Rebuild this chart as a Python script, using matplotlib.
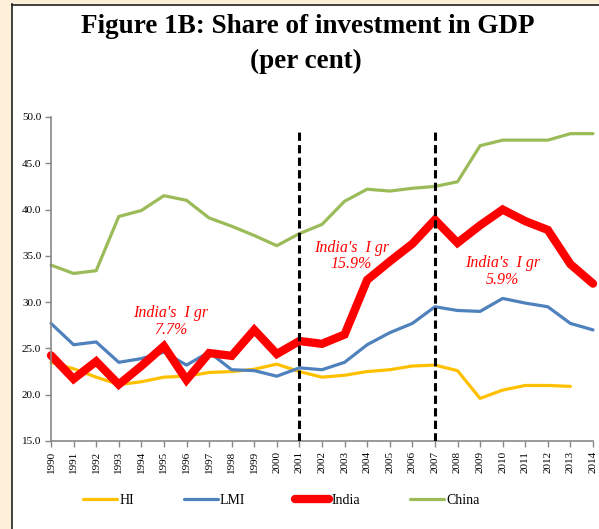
import matplotlib
matplotlib.use("Agg")
import matplotlib.pyplot as plt
from matplotlib.patches import Rectangle
from matplotlib.lines import Line2D

plt.rcParams['font.family'] = ['Liberation Serif', 'DejaVu Serif']

years = list(range(1990, 2015))
hi = [23.5, 22.8, 21.9, 21.1, 21.4, 21.9, 22.0, 22.4, 22.5, 22.75, 23.3, 22.5,
      21.9, 22.1, 22.5, 22.7, 23.1, 23.2, 22.6, 19.6, 20.5, 21.0, 21.0, 20.9, None]
lmi = [27.7, 25.4, 25.7, 23.5, 23.9, 24.6, 23.2, 24.6, 22.7, 22.6, 22.0, 22.9,
       22.7, 23.5, 25.4, 26.7, 27.7, 29.5, 29.1, 29.0, 30.4, 29.9, 29.5, 27.7, 27.0]
india = [24.25, 21.7, 23.6, 21.1, 23.1, 25.25, 21.6, 24.5, 24.2, 27.0, 24.4, 25.8,
         25.5, 26.5, 32.4, 34.4, 36.3, 38.9, 36.4, 38.3, 40.0, 38.75, 37.8, 34.1, 32.0]
china = [34.0, 33.1, 33.4, 39.25, 39.9, 41.5, 41.0, 39.1, 38.2, 37.2, 36.1, 37.4,
         38.4, 40.9, 42.2, 42.0, 42.3, 42.5, 43.0, 46.9, 47.5, 47.5, 47.5, 48.2, 48.2]

break_years = [2001, 2007]
notes = ["India's  I gr\n7.7%", "India's  I gr\n15.9%", "India's  I gr\n5.9%"]
note_x = [1995.3, 2003.3, 2010.0]
note_y = [27.9, 35.0, 33.3]

fig = plt.figure(figsize=(5.99, 5.29), dpi=100)

# cream frame on the left / top like the source slide
fig.patches.append(Rectangle((0, 0), 11 / 599, 1, transform=fig.transFigure,
                             color='#FDEFD9', zorder=0))
fig.patches.append(Rectangle((0, 1 - 4 / 529), 1, 4 / 529, transform=fig.transFigure,
                             color='#FDEFD9', zorder=0))
fig.lines.append(Line2D([11.5 / 599, 11.5 / 599], [0, 1 - 4 / 529], transform=fig.transFigure,
                        color='#222222', lw=1.2))
fig.lines.append(Line2D([11.5 / 599, 1], [1 - 4.5 / 529, 1 - 4.5 / 529], transform=fig.transFigure,
                        color='#222222', lw=1.2))

ax = fig.add_axes([51 / 599, 1 - 441 / 529, 542 / 599, 324 / 529])

hi_years = [y for y, v in zip(years, hi) if v is not None]
hi_vals = [v for v in hi if v is not None]
ax.plot(hi_years, hi_vals, color='#FFC000', lw=2.3, label='HI', solid_capstyle='round',
        clip_on=False)
ax.plot(years, lmi, color='#4F81BD', lw=2.3, label='LMI', solid_capstyle='round',
        clip_on=False)
ax.plot(years, india, color='#FF0000', lw=6, label='India', solid_capstyle='round',
        solid_joinstyle='miter', clip_on=False)
ax.plot(years, china, color='#9BBB59', lw=2.3, label='China', solid_capstyle='round',
        clip_on=False)

for by in break_years:
    ax.vlines(by, 15, 48.8, colors='black', lw=2.2, linestyles=(0, (2.7, 1.4)), zorder=5)

for t, x, y in zip(notes, note_x, note_y):
    ax.text(x, y, t, color='#FF0000', style='italic', fontsize=11.5,
            ha='center', va='center', linespacing=1.05)

ax.set_xlim(1990, 2014)
ax.set_ylim(15, 50)
ax.set_yticks([15, 20, 25, 30, 35, 40, 45, 50])
ax.set_yticklabels([f"{v:.1f}" for v in [15, 20, 25, 30, 35, 40, 45, 50]], fontsize=8)
ax.set_xticks(years)
ax.set_xticklabels([str(y) for y in years], rotation=90, fontsize=8)
ax.tick_params(axis='both', color='#888888', length=4, width=1, pad=3)

for s in ['top', 'right']:
    ax.spines[s].set_visible(False)
for s in ['left', 'bottom']:
    ax.spines[s].set_color('#888888')
    ax.spines[s].set_linewidth(1.2)

fig.legend(loc='center left', bbox_to_anchor=(83 / 599, 1 - 500 / 529), ncol=4,
           frameon=False, fontsize=10, handlelength=2.45, handletextpad=0.15,
           columnspacing=3.6, borderpad=0, borderaxespad=0)

fig.text(308 / 599, 1 - 33 / 529, "Figure 1B: Share of investment in GDP",
         fontsize=19.5, fontweight='bold', ha='center', va='baseline')
fig.text(306 / 599, 1 - 68 / 529, "(per cent)",
         fontsize=19.5, fontweight='bold', ha='center', va='baseline')

fig.savefig("out.png", dpi=100)
